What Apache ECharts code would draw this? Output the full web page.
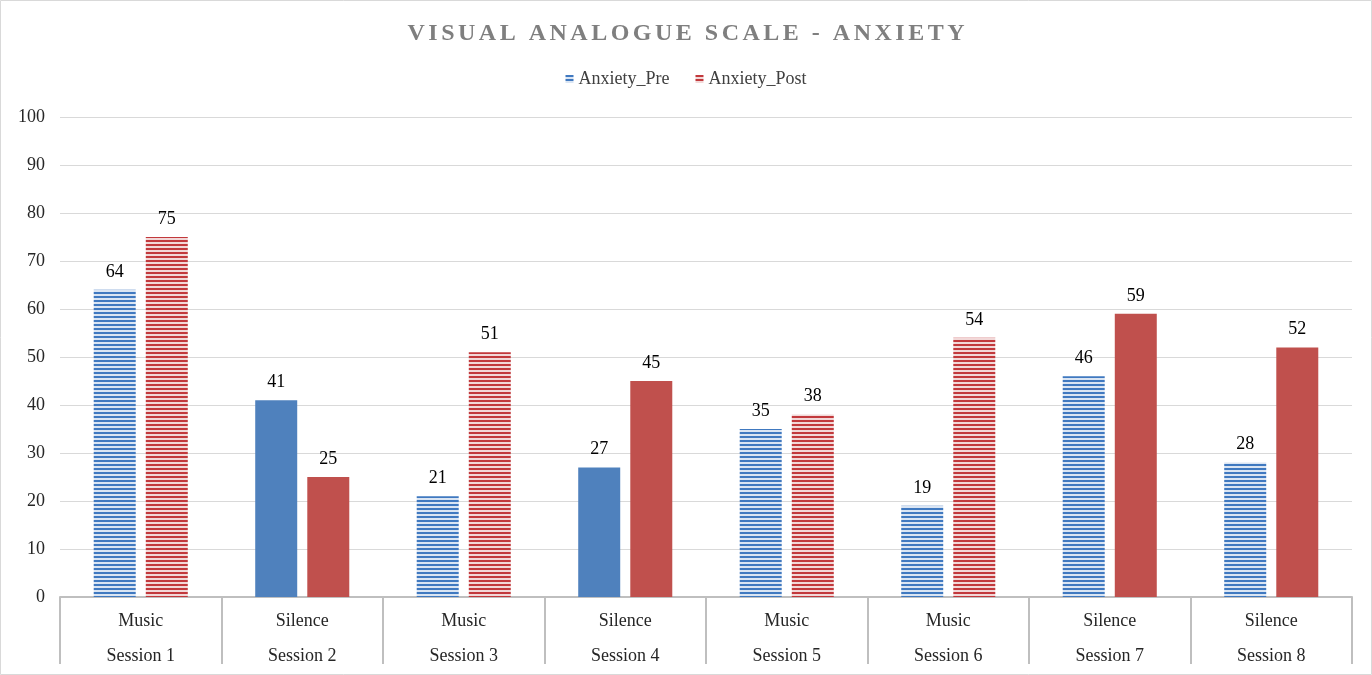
<!DOCTYPE html>
<html>
<head>
<meta charset="utf-8">
<script src="https://cdn.jsdelivr.net/npm/echarts@6/dist/echarts.min.js"></script>
<style>html,body{margin:0;padding:0;background:#fff;}#c{width:1372px;height:675px;}</style>
</head>
<body>
<div id="c"></div>
<script>
const titleText = 'VISUAL ANALOGUE SCALE - ANXIETY';
const sessions = ['Session 1','Session 2','Session 3','Session 4','Session 5','Session 6','Session 7','Session 8'];
const conditions = ['Music','Silence','Music','Silence','Music','Music','Silence','Silence'];
const anxietyPre = [64, 41, 21, 27, 35, 19, 46, 28];
const anxietyPost = [75, 25, 51, 45, 38, 54, 59, 52];
const yTicks = [0,10,20,30,40,50,60,70,80,90,100];
// style flags: which bars are drawn with a striped fill
const preStriped = [true,false,true,false,true,true,true,true];
const postStriped = [true,false,true,false,true,true,false,false];

function stripe(dark, light){
  const cv = document.createElement('canvas');
  cv.width = 4; cv.height = 4;
  const ctx = cv.getContext('2d');
  ctx.fillStyle = light; ctx.fillRect(0,0,4,4);
  ctx.fillStyle = dark; ctx.fillRect(0,0,4,2);
  return {image: cv, repeat: 'repeat'};
}
const blue = '#4f81bd', red = '#c0504d';
const blueStripe = stripe('#4079c0', '#dae5f3');
const redStripe = stripe('#c2393c', '#f2d8d8');

const font = 'Liberation Serif';
// letter-spaced title via rich text segments
const spacedTitle = titleText.split('').map(ch => '{c|' + ch + '}').join('');

const chart = echarts.init(document.getElementById('c'), null, {renderer:'canvas'});
const labelCfg = {show:true, position:'top', distance:9, color:'#000', fontSize:18, fontFamily:font};
chart.setOption({
  animation:false,
  backgroundColor:'#fff',
  title:{text:spacedTitle, left:'center', top:17,
    textStyle:{fontFamily:font, fontSize:24, fontWeight:'bold', color:'#7f7f7f',
      rich:{c:{fontFamily:font, fontSize:24, fontWeight:'bold', color:'#7f7f7f', padding:[0,1.75,0,1.75]}}}},
  legend:{top:65, left:'center', icon:'rect', itemWidth:8, itemHeight:8, itemGap:26,
    textStyle:{fontFamily:font, fontSize:18, color:'#404040'},
    data:['Anxiety_Pre','Anxiety_Post']},
  graphic:[{type:'rect', shape:{x:0.5,y:0.5,width:1371,height:674}, style:{fill:null, stroke:'#d9d9d9', lineWidth:1}, silent:true}],
  grid:{left:60, right:20, top:117, bottom:78, containLabel:false},
  xAxis:{type:'category', data:sessions,
    axisLine:{lineStyle:{color:'#bfbfbf', width:2}},
    axisTick:{show:true, length:67, lineStyle:{color:'#bfbfbf', width:2}},
    axisLabel:{margin:7, fontFamily:font, fontSize:18, color:'#262626', lineHeight:35,
      formatter:(v,i)=>conditions[i]+'\n'+v}},
  yAxis:{type:'value', min:0, max:100, interval:10,
    axisLine:{show:false}, axisTick:{show:false},
    axisLabel:{margin:15, fontFamily:font, fontSize:18, color:'#262626',
      formatter:(v)=> yTicks.indexOf(v)>=0 ? String(v) : ''},
    splitLine:{lineStyle:{color:'#d9d9d9', width:1}}},
  series:[
    {name:'Anxiety_Pre', type:'bar', barWidth:'26%', barGap:'24%',
      itemStyle:{color:blueStripe},
      label:labelCfg,
      data:anxietyPre.map((v,i)=>({value:v, itemStyle:{color: preStriped[i]?blueStripe:blue}}))},
    {name:'Anxiety_Post', type:'bar', barWidth:'26%', barGap:'24%',
      itemStyle:{color:redStripe},
      label:labelCfg,
      data:anxietyPost.map((v,i)=>({value:v, itemStyle:{color: postStriped[i]?redStripe:red}}))}
  ]
});
</script>
</body>
</html>
